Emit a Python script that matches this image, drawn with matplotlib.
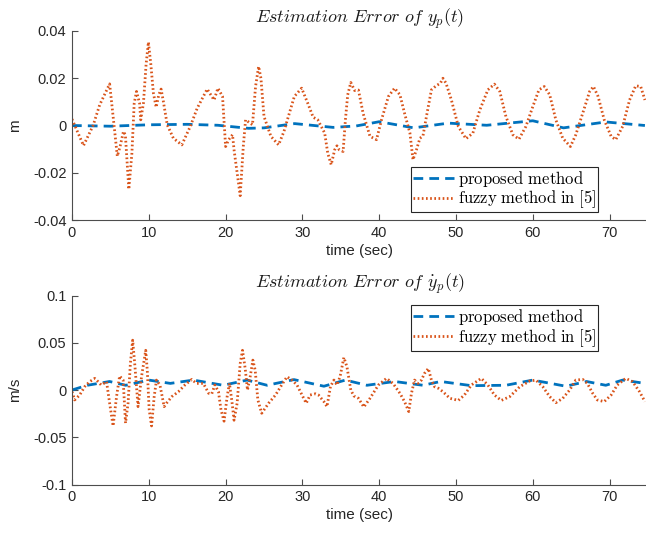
import matplotlib
matplotlib.use('Agg')
import matplotlib.pyplot as plt
from matplotlib.ticker import FuncFormatter

# Error de posición y_p(t): método propuesto
t_pos_prop = [0, 5, 10, 15, 19, 23, 25, 29, 34, 37, 40, 44.5, 49, 54, 60, 64, 69.5, 74.6]
e_pos_prop = [0, -0.0003, 0.0003, 0.0005, 0.0001, -0.0012, -0.001, 0.0008, -0.0008,
              -0.0002, 0.0016, -0.001, 0.001, 0.0001, 0.002, -0.001, 0.0015, 0.0]

# Error de posición y_p(t): método difuso de [5]
t_pos_fuzzy = [0, 1.5, 2.75, 3.6, 4.9, 5.4, 5.9, 6.25, 6.7, 6.95, 7.4, 7.8, 8.1, 8.4, 8.8,
               8.95, 9.3, 9.65, 9.95, 10.26, 10.6, 10.96, 11.3, 11.6, 11.9, 12.4, 13.2,
               14.3, 15.4, 16.3, 17.6, 18.5, 19.0, 19.6, 20.0, 20.4, 20.9, 21.1, 21.9,
               22.3, 22.6, 22.9, 23.5, 23.9, 24.3, 24.6, 25.0, 25.9, 26.9, 27.6, 28.3,
               28.95, 29.9, 30.7, 31.4, 32.0, 32.9, 33.3, 33.75, 34.2, 34.5, 34.8, 35.3,
               35.6, 35.9, 36.3, 36.8, 37.3, 37.9, 38.8, 39.65, 40.3, 41.2, 42.0, 42.7,
               43.3, 44.0, 44.4, 44.85, 45.3, 45.7, 46.15, 46.8, 47.4, 47.97, 48.3, 48.7,
               49.4, 50.3, 51.3, 52.2, 53.1, 54.15, 55.0, 55.7, 56.5, 57.4, 58.2, 59.1,
               60.0, 60.8, 61.5, 62.2, 63.0, 63.9, 64.9, 65.6, 66.5, 67.4, 67.9, 68.5,
               69.3, 70.2, 70.8, 71.7, 72.6, 73.4, 74.05, 74.6]
e_pos_fuzzy = [0.0027, -0.0085, 0.0, 0.0087, 0.0176, 0.0024, -0.013, -0.009, -0.0025,
               -0.004, -0.027, -0.0117, 0.0094, 0.0144, 0.0094, 0.0024, 0.0094, 0.026,
               0.0353, 0.026, 0.0137, 0.0077, 0.013, 0.0154, 0.0101, 0.0003, -0.0054,
               -0.0082, -0.0004, 0.0073, 0.0154, 0.0108, 0.0158, 0.0123, -0.0089, -0.006,
               -0.0039, -0.0103, -0.0297, -0.009, 0.0024, 0.0017, 0.0003, 0.0165, 0.025,
               0.02, 0.0038, -0.0046, -0.0082, -0.0025, 0.0052, 0.0123, 0.0158, 0.0094,
               0.0035, 0.0024, -0.0032, -0.0117, -0.0166, -0.0103, -0.0086, -0.0103,
               -0.011, 0.0024, 0.013, 0.0182, 0.0148, 0.015, 0.0052, -0.0046, -0.006,
               0.0024, 0.0123, 0.0158, 0.013, 0.0052, -0.0032, -0.0145, -0.0103, -0.0054,
               -0.0044, 0.0038, 0.0151, 0.0168, 0.0179, 0.02, 0.0179, 0.0108, -0.0004,
               -0.0056, -0.0032, 0.0066, 0.0151, 0.0175, 0.0144, 0.0038, -0.0039, -0.0058,
               -0.0004, 0.008, 0.0151, 0.0165, 0.013, 0.0024, -0.0054, -0.0089, -0.0039,
               0.0052, 0.0144, 0.0165, 0.0123, 0.0024, -0.0046, -0.006, -0.0004, 0.0108,
               0.0168, 0.0165, 0.0108]

# Error de velocidad dy_p/dt: método propuesto
t_vel_prop = [0, 2, 4.9, 7, 10, 12.8, 15.8, 19.7, 22.8, 25.4, 28.9, 32.8, 35.6, 38.4,
              42, 45.7, 48, 52, 56.5, 60, 64.3, 67, 69.5, 71.7, 74.6]
e_vel_prop = [0, 0.005, 0.009, 0.005, 0.0105, 0.007, 0.0105, 0.005, 0.0105, 0.005, 0.011,
              0.004, 0.0105, 0.005, 0.009, 0.005, 0.009, 0.0046, 0.005, 0.0105, 0.004,
              0.009, 0.005, 0.0105, 0.007]

# Error de velocidad dy_p/dt: método difuso de [5]
t_vel_fuzzy = [0, 0.35, 1.0, 1.65, 2.3, 2.96, 3.4, 3.8, 4.5, 4.9, 5.35, 5.8, 6.2, 6.66,
               6.97, 7.3, 7.6, 7.9, 8.2, 8.6, 9.05, 9.6, 9.8, 10.05, 10.36, 10.7, 11.0,
               11.45, 12.0, 12.3, 13.0, 13.85, 14.7, 15.6, 16.2, 17.1, 17.8, 18.2, 18.6,
               19.07, 19.4, 19.8, 20.2, 20.5, 20.8, 21.1, 21.5, 21.9, 22.2, 22.55, 22.85,
               23.2, 23.55, 23.85, 24.2, 24.7, 25.6, 26.5, 27.3, 28.0, 28.65, 29.3, 29.95,
               30.5, 31.0, 31.7, 32.1, 32.8, 33.2, 33.65, 34.1, 34.5, 34.9, 35.4, 35.8,
               36.3, 36.7, 37.3, 38.0, 38.8, 39.9, 40.95, 41.8, 42.7, 43.3, 43.85, 44.2,
               44.6, 45.05, 45.5, 45.9, 46.4, 46.8, 47.2, 47.7, 48.3, 49.2, 50.3, 51.1,
               52.0, 53.3, 54.15, 55.0, 55.9, 57.0, 58.3, 59.6, 60.4, 61.3, 62.2, 63.0,
               63.9, 64.8, 65.6, 66.5, 67.1, 67.8, 68.4, 69.3, 70.2, 71.0, 72.1, 73.0,
               73.9, 74.6]
e_vel_fuzzy = [-0.0018, -0.0105, -0.0053, 0.0035, 0.0088, 0.0123, 0.0088, 0.0053, 0.0088,
               -0.014, -0.038, -0.007, 0.0148, 0.0105, -0.035, -0.014, 0.028, 0.0527,
               0.0246, -0.0176, 0.014, 0.042, 0.021, -0.021, -0.038, -0.007, 0.0105,
               0.0053, -0.0176, -0.014, -0.007, -0.0018, 0.0053, 0.0112, 0.007, 0.007,
               -0.0035, -0.004, 0.0053, -0.0018, -0.021, -0.033, -0.007, 0.007, -0.0105,
               -0.032, -0.014, 0.028, 0.042, 0.0228, 0.0, 0.014, 0.0316, 0.021, -0.0105,
               -0.0246, -0.014, -0.0053, 0.0053, 0.014, 0.0105, 0.0053, -0.0053, -0.014,
               -0.0053, -0.004, -0.0053, -0.0123, -0.0176, 0.0035, 0.0105, 0.0053, 0.014,
               0.0344, 0.0246, 0.0, -0.0063, -0.0088, -0.018, -0.0088, 0.0053, 0.0123,
               0.007, -0.0035, -0.0123, -0.0228, -0.0035, 0.0105, 0.007, 0.0105, 0.0176,
               0.0228, 0.0105, 0.0035, 0.0018, -0.0018, -0.0088, -0.011, -0.0053, 0.0053,
               0.0123, 0.0053, -0.0053, -0.011, -0.007, 0.0035, 0.0095, 0.0105, 0.0035,
               -0.007, -0.0134, -0.0088, 0.0, 0.0105, 0.0112, 0.007, -0.0035, -0.0105,
               -0.0123, -0.0053, 0.0053, 0.0123, 0.0088, -0.0018, -0.0123]

BLUE = '#0072BD'
ORANGE = '#D95319'
AX_COLOR = '#4d4d4d'
TXT_COLOR = '#262626'

plt.rcParams['font.family'] = ['Liberation Sans', 'DejaVu Sans']
plt.rcParams['mathtext.fontset'] = 'cm'

W, H = 646, 534
fig = plt.figure(figsize=(W / 100, H / 100), dpi=100)

def axes_px(left, top, right, bottom):
    # posición de los ejes en píxeles de la figura
    return fig.add_axes([left / W, 1 - bottom / H, (right - left) / W, (bottom - top) / H])

ax1 = axes_px(72, 31, 648, 220)
ax2 = axes_px(72, 295.5, 648, 484.5)

paneles = [
    (ax1, t_pos_prop, e_pos_prop, t_pos_fuzzy, e_pos_fuzzy,
     r'$Estimation\ Error\ of\ y_p(t)$', 'm', (-0.04, 0.04), 0.02, 166.7),
    (ax2, t_vel_prop, e_vel_prop, t_vel_fuzzy, e_vel_fuzzy,
     r'$Estimation\ Error\ of\ \dot{y}_p(t)$', 'm/s', (-0.1, 0.1), 0.05, 305.0),
]

def fmt_g(v, pos):
    s = '%g' % round(v, 6)
    return '0' if s in ('-0', '0') else s

for ax, tp, ep, tf, ef, titulo, ylab, ylim, paso, leg_top in paneles:
    ax.plot(tp, ep, color=BLUE, linestyle=(0, (3.5, 2.2)), linewidth=2.0,
            label=r'$\mathrm{proposed\ method}$')
    ax.plot(tf, ef, color=ORANGE, linestyle=(0, (0.6, 0.9)), linewidth=2.0,
            label=r'$\mathrm{fuzzy\ method\ in\ [5]}$')

    ax.set_xlim(0, 75)
    ax.set_ylim(*ylim)
    ax.set_xticks(range(0, 71, 10))
    n = int(round((ylim[1] - ylim[0]) / paso))
    ax.set_yticks([ylim[0] + k * paso for k in range(n + 1)])
    ax.yaxis.set_major_formatter(FuncFormatter(fmt_g))

    for s in ('top', 'right'):
        ax.spines[s].set_visible(False)
    for s in ('left', 'bottom'):
        ax.spines[s].set_color(AX_COLOR)
        ax.spines[s].set_linewidth(0.8)
    ax.tick_params(direction='in', length=4, width=0.8, color=AX_COLOR,
                   labelcolor=TXT_COLOR, labelsize=10.5, pad=4)

    ax.set_title(titulo, fontsize=13, color='#1a1a1a', pad=4)
    ax.set_xlabel('time (sec)', fontsize=11, color=TXT_COLOR, labelpad=3)
    ax.set_ylabel(ylab, fontsize=11, color=TXT_COLOR, labelpad=8)

    leg = ax.legend(loc='upper left', bbox_to_anchor=(410.7 / W, 1 - leg_top / H),
                    bbox_transform=fig.transFigure, borderaxespad=0, fancybox=False,
                    framealpha=1, edgecolor='#262626', fontsize=12, handlelength=2.45,
                    handletextpad=0.25, borderpad=0.12, labelspacing=0.0)
    leg.get_frame().set_linewidth(0.8)

fig.savefig('out.png', dpi=100)
